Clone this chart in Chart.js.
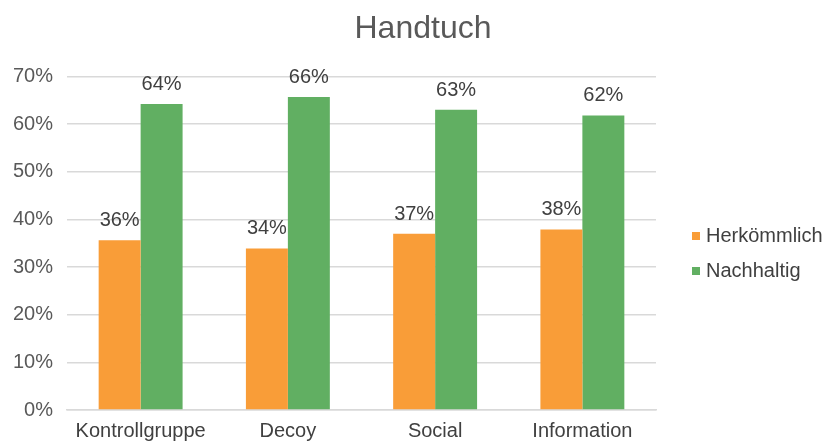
<!DOCTYPE html>
<html>
<head>
<meta charset="utf-8">
<script src="https://cdn.jsdelivr.net/npm/chart.js@4"></script>
<style>
  body { margin: 0; background: #fff; }
</style>
</head>
<body>
<canvas id="chart" width="828" height="441"></canvas>
<script>
const categories = ['Kontrollgruppe', 'Decoy', 'Social', 'Information'];
const herkoemmlich = [35.6, 33.9, 37.0, 37.9];
const nachhaltig = [64.2, 65.7, 63.0, 61.8];
const yTicks = [0, 10, 20, 30, 40, 50, 60, 70];

const FONT = "'Liberation Sans', Arial, Helvetica, sans-serif";

// value labels above each bar
const barLabels = {
    id: 'barLabels',
    afterDatasetsDraw(chart) {
        const ctx = chart.ctx;
        ctx.save();
        ctx.font = '20px ' + FONT;
        ctx.fillStyle = '#404040';
        ctx.textAlign = 'center';
        ctx.textBaseline = 'alphabetic';
        chart.data.datasets.forEach((ds, i) => {
            chart.getDatasetMeta(i).data.forEach((bar, j) => {
                ctx.fillText(Math.round(ds.data[j]) + '%', bar.x, bar.y - 14);
            });
        });
        ctx.restore();
    }
};

// keep legend column a fixed width and nudge legend/title into place
const layoutFix = {
    id: 'layoutFix',
    afterInit(chart) {
        const lg = chart.legend;
        const fit = lg.fit.bind(lg);
        lg.fit = function () { fit(); this.width = 172; };
    },
    afterLayout(chart) {
        const lg = chart.legend;
        lg.left += 25; lg.right += 25;
        lg.top += 33; lg.bottom += 33;
        chart.titleBlock.left += 9;
        chart.titleBlock.right += 9;
    }
};

new Chart(document.getElementById('chart'), {
    type: 'bar',
    data: {
        labels: categories,
        datasets: [
            { label: 'Herkömmlich', data: herkoemmlich, backgroundColor: '#F99D38' },
            { label: 'Nachhaltig', data: nachhaltig, backgroundColor: '#61AF62' }
        ]
    },
    options: {
        responsive: false,
        animation: false,
        datasets: { bar: { categoryPercentage: 0.57, barPercentage: 1.0 } },
        layout: { padding: 0 },
        plugins: {
            title: {
                display: true,
                text: 'Handtuch',
                color: '#595959',
                font: { family: FONT, size: 32, weight: 'normal' },
                padding: { top: 10, bottom: 28 }
            },
            legend: {
                position: 'right',
                labels: {
                    usePointStyle: true,
                    pointStyle: 'rect',
                    boxWidth: 0.01, // marker centred on x, text right after it
                    boxHeight: 8,
                    padding: 15,
                    color: '#404040',
                    font: { family: FONT, size: 20 }
                }
            },
            tooltip: { enabled: false }
        },
        scales: {
            x: {
                afterFit(scale) { scale.height = 31; },
                grid: { display: false, drawTicks: false },
                border: { display: true, color: '#D9D9D9', width: 1.5 },
                ticks: {
                    color: '#404040',
                    padding: 9,
                    font: { family: FONT, size: 20 }
                }
            },
            y: {
                min: 0,
                max: 70,
                afterBuildTicks(scale) {
                    scale.ticks = yTicks.map(v => ({ value: v }));
                },
                afterFit(scale) { scale.width = 67; },
                grid: { color: '#D9D9D9', lineWidth: 1.5, drawTicks: false },
                border: { display: false },
                ticks: {
                    color: '#595959',
                    padding: 14,
                    font: { family: FONT, size: 20 },
                    callback: v => v + '%'
                }
            }
        }
    },
    plugins: [barLabels, layoutFix]
});
</script>
</body>
</html>
